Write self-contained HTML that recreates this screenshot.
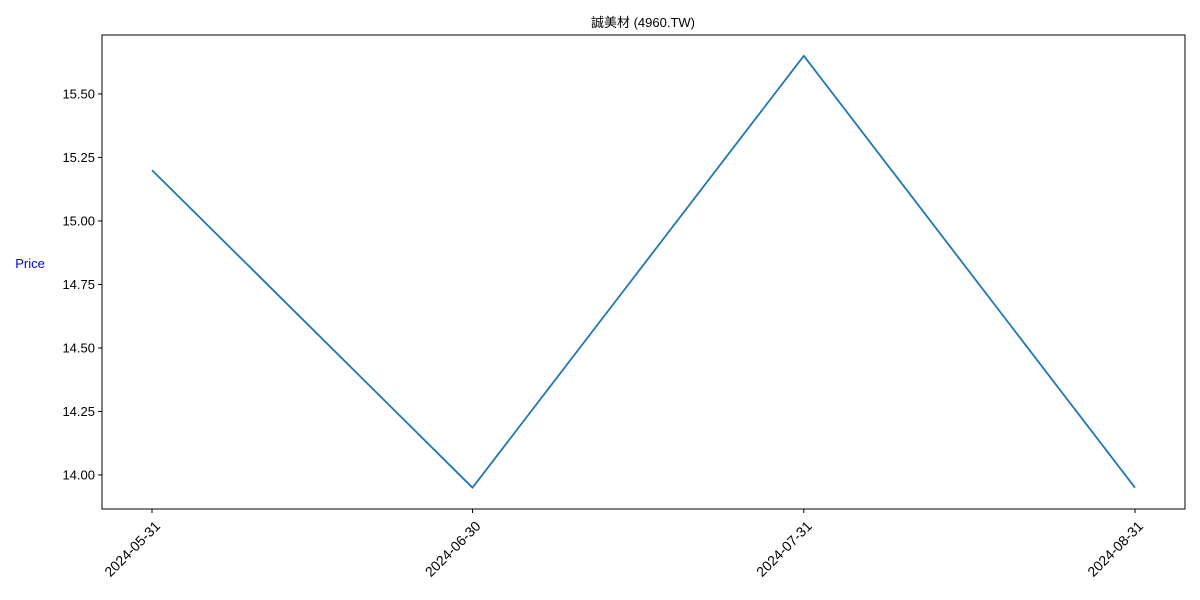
<!DOCTYPE html>
<html><head><meta charset="utf-8">
<style>
html,body{margin:0;padding:0;background:#fff;}
svg{display:block;font-family:"Liberation Sans","Noto Sans CJK TC",sans-serif;}
</style></head>
<body>
<svg id="chart" width="1200" height="600" viewBox="0 0 1200 600">
  <text x="643" y="27" text-anchor="middle" font-size="13">誠美材 (4960.TW)</text>
  <text x="30" y="268" text-anchor="middle" font-size="13" fill="blue">Price</text>
  <g id="yaxis"></g>
  <g id="xaxis"></g>
  <g id="series"></g>
  <rect x="102" y="35" width="1083" height="474" fill="none" stroke="#000" stroke-width="1"/>
</svg>
<script>
const dates = ["2024-05-31","2024-06-30","2024-07-31","2024-08-31"];
const prices = [15.20, 13.95, 15.65, 13.95];
const yTicks = [14.00, 14.25, 14.50, 14.75, 15.00, 15.25, 15.50];
const xTickLabels = ["2024-05-31","2024-06-30","2024-07-31","2024-08-31"];

const NS = "http://www.w3.org/2000/svg";
const L = 102, R = 1185, T = 35, B = 509;
const yMin = 13.866, yMax = 15.732;
const day = s => Date.parse(s + "T00:00:00Z") / 86400000;
const d0 = day(dates[0]) - 4.68, d1 = day(dates[dates.length-1]) + 4.68;
const xs = s => L + (day(s) - d0) / (d1 - d0) * (R - L);
const ys = v => B - (v - yMin) / (yMax - yMin) * (B - T);
function mk(tag, attrs, parent) {
  const e = document.createElementNS(NS, tag);
  for (const k in attrs) e.setAttribute(k, attrs[k]);
  parent.appendChild(e);
  return e;
}
const ya = document.getElementById("yaxis");
yTicks.forEach(v => {
  const y = ys(v);
  const tk = mk("line", {x1: L-4, x2: L, y1: y, y2: y, stroke: "#000"}, ya);
  
  
  const t = mk("text", {x: L-7, y: y+4.5, "text-anchor": "end", "font-size": "13"}, ya);
  t.textContent = v.toFixed(2);
  
  
});
const xa = document.getElementById("xaxis");
xTickLabels.forEach(s => {
  const x = xs(s);
  const tk = mk("line", {x1: x, x2: x, y1: B, y2: B+4, stroke: "#000"}, xa);
  
  
  const ax = x + 9, ay = B + 18;
  const t = mk("text", {x: ax, y: ay, "text-anchor": "end", "font-size": "14",
    transform: `rotate(-45 ${ax} ${ay})`}, xa);
  t.textContent = s;
  
  
});
const sg = document.getElementById("series");
const pts = dates.map((d, i) => xs(d).toFixed(1) + "," + ys(prices[i]).toFixed(1)).join(" ");
const pl = mk("polyline", {points: pts, fill: "none", stroke: "#1f77b4", "stroke-width": "1.8", "stroke-linejoin": "round"}, sg);


</script>
</body></html>
